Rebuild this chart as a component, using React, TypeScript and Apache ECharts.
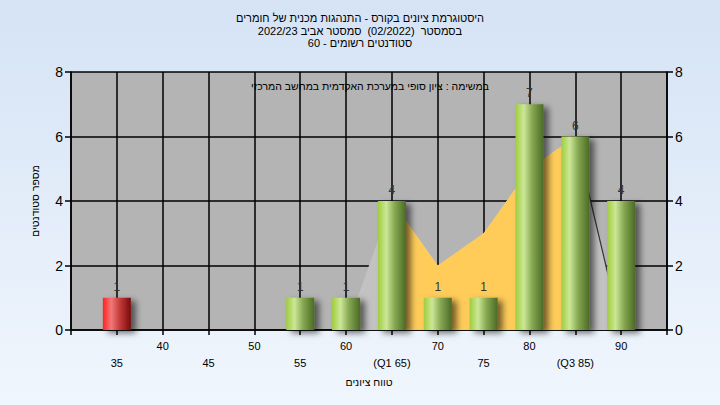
import React, { useEffect, useRef } from "react";
import * as echarts from "echarts";

// ---- data ----
const binCenters = [35, 55, 60, 65, 70, 75, 80, 85, 90];
const binCounts = [1, 1, 1, 4, 1, 1, 7, 6, 4];
const failLimit = 55;

const curveX = [60, 65, 70, 75, 80, 85, 90];
const curveY = [0, 4, 2, 3, 5, 6, 0];

const quartX = [65, 70, 75, 80, 85];
const quartY = [4, 2, 3, 5, 6];

const tickValues = [35, 40, 45, 50, 55, 60, 65, 70, 75, 80, 85, 90];
const tickTexts = ["35", "40", "45", "50", "55", "60", "(Q1 65)", "70", "75", "80", "(Q3 85)", "90"];
const lowerRow = [35, 45, 55, 65, 75, 85];

const titleLines = [
  "היסטוגרמת ציונים בקורס - התנהגות מכנית של חומרים",
  "בסמסטר  (02/2022)  סמסטר אביב 2022/23",
  "סטודנטים רשומים - 60",
];
const subTitle = "במשימה : ציון סופי במערכת האקדמית במחשב המרכזי";
const xName = "טווח ציונים";
const yName = "מספר סטודנטים";

const FONT = 'Arial, "Liberation Sans", sans-serif';

export default function App() {
  const ref = useRef<HTMLDivElement>(null);
  useEffect(() => {
    if (!ref.current) return;
    const chart = echarts.init(ref.current, undefined, { renderer: "svg" });

    const green = new echarts.graphic.LinearGradient(0, 0, 1, 0, [
      { offset: 0, color: "#9fcd3c" },
      { offset: 0.3, color: "#cce797" },
      { offset: 0.6, color: "#86a852" },
      { offset: 1, color: "#4b6a25" },
    ]);
    const red = new echarts.graphic.LinearGradient(0, 0, 1, 0, [
      { offset: 0, color: "#ff2020" },
      { offset: 0.3, color: "#f27878" },
      { offset: 0.6, color: "#c43c3c" },
      { offset: 1, color: "#7a0808" },
    ]);

    const labelMap: Record<number, string> = {};
    tickValues.forEach((v, i) => (labelMap[v] = tickTexts[i]));

    chart.setOption({
      animation: false,
      backgroundColor: new echarts.graphic.LinearGradient(0, 0, 0, 1, [
        { offset: 0, color: "#d5e3f5" },
        { offset: 1, color: "#f0f6fd" },
      ]),
      textStyle: { fontFamily: FONT },
      title: [
        {
          text: titleLines.join("\n"),
          left: 360,
          top: 12,
          padding: 0,
          textAlign: "center",
          textStyle: { fontSize: 11, fontWeight: "normal", color: "#000", lineHeight: 12.5, fontFamily: FONT },
        },
        {
          text: subTitle,
          left: 370,
          top: 80,
          padding: 0,
          textAlign: "center",
          textStyle: { fontSize: 10.5, fontWeight: "normal", color: "#000", fontFamily: FONT },
        },
      ],
      grid: {
        left: 71,
        right: 53,
        top: 72,
        bottom: 75,
        show: true,
        backgroundColor: "#b4b4b4",
        borderWidth: 0,
      },
      xAxis: {
        type: "value",
        min: 30,
        max: 95,
        interval: 5,
        name: xName,
        nameLocation: "middle",
        nameGap: 46,
        nameTextStyle: { fontSize: 10.5, color: "#000", fontFamily: FONT },
        axisLine: { show: true, lineStyle: { color: "#000", width: 1.5 } },
        axisTick: { show: true, length: 5, lineStyle: { color: "#000", width: 1.5 } },
        splitLine: { show: true, lineStyle: { color: "#000", width: 1.5 } },
        axisLabel: {
          margin: 7,
          fontSize: 11,
          color: "#000",
          lineHeight: 17,
          fontFamily: FONT,
          formatter: (v: number) => {
            const t = labelMap[v];
            if (t === undefined) return "";
            return lowerRow.includes(v) ? "\n" + t : t;
          },
        },
      },
      yAxis: [
        {
          type: "value",
          min: 0,
          max: 8,
          interval: 2,
          position: "left",
          name: yName,
          nameLocation: "middle",
          nameGap: 31,
          nameRotate: 90,
          nameTextStyle: { fontSize: 10.5, color: "#000", fontFamily: FONT },
          axisLine: { show: true, lineStyle: { color: "#000", width: 1.5 } },
          axisTick: { show: true, length: 6, lineStyle: { color: "#000", width: 1.5 } },
          splitLine: { show: true, lineStyle: { color: "#000", width: 1.5 } },
          axisLabel: { fontSize: 14, color: "#000", margin: 8, fontFamily: FONT },
        },
        {
          type: "value",
          min: 0,
          max: 8,
          interval: 2,
          position: "right",
          axisLine: { show: true, lineStyle: { color: "#000", width: 1.5 } },
          axisTick: { show: true, length: 6, lineStyle: { color: "#000", width: 1.5 } },
          splitLine: { show: false },
          axisLabel: { fontSize: 14, color: "#000", margin: 8, fontFamily: FONT },
        },
      ],
      series: [
        {
          type: "line",
          data: curveX.map((x, i) => [x, curveY[i]]),
          symbol: "none",
          lineStyle: { width: 0 },
          areaStyle: { color: "#c2c2c2", opacity: 1 },
          z: 1,
        },
        {
          type: "line",
          data: quartX.map((x, i) => [x, quartY[i]]),
          symbol: "none",
          lineStyle: { width: 0 },
          areaStyle: { color: "#ffcc5a", opacity: 1 },
          z: 2,
        },
        {
          type: "line",
          data: curveX.slice(-2).map((x, i) => [x, curveY[curveY.length - 2 + i]]),
          symbol: "none",
          lineStyle: { width: 1.2, color: "#333" },
          z: 3,
        },
        {
          type: "bar",
          barWidth: 28,
          z: 5,
          data: binCenters.map((x, i) => ({
            value: [x, binCounts[i]],
            itemStyle: { color: x < failLimit ? red : green },
          })),
          itemStyle: {
            shadowColor: "rgba(0,0,0,0.55)",
            shadowBlur: 6,
            shadowOffsetX: 5,
            shadowOffsetY: 3,
          },
          label: {
            show: true,
            position: "top",
            distance: 5,
            fontSize: 12,
            color: "#333",
            fontFamily: FONT,
            formatter: (p: any) => String(p.value[1]),
          },
        },
      ],
    });
    return () => chart.dispose();
  }, []);
  return <div ref={ref} style={{ position: "fixed", left: 0, top: 0, width: 720, height: 405 }} />;
}
